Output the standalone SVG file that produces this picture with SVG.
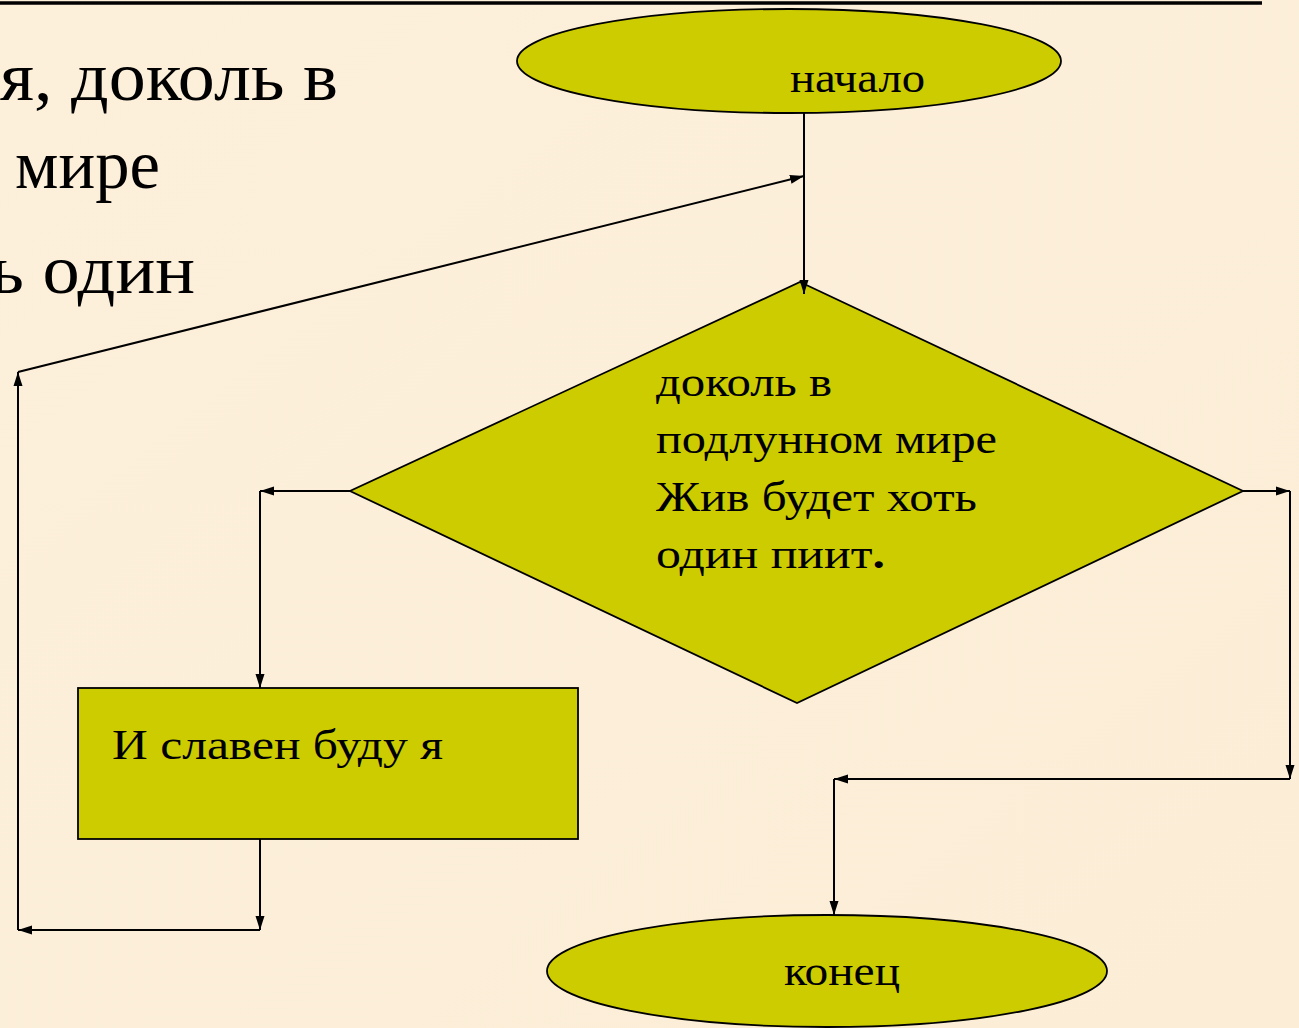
<svg xmlns="http://www.w3.org/2000/svg" width="1299" height="1028" viewBox="0 0 1299 1028">
<defs>
<linearGradient id="bg" x1="0" y1="0" x2="1" y2="1">
<stop offset="0" stop-color="#fdf0db"/>
<stop offset="1" stop-color="#fbedd6"/>
</linearGradient>
<marker id="ah" viewBox="0 0 14 10" refX="14" refY="5" markerWidth="14" markerHeight="10" markerUnits="userSpaceOnUse" orient="auto">
<path d="M0,0.5 L14,5 L0,9.5 z" fill="#000"/>
</marker>
</defs>
<style>
.shape{fill:#cccc00;stroke:#000;stroke-width:1.8}
.conn{fill:none;stroke:#000;stroke-width:2}
.t{font-family:"Liberation Serif","Times New Roman",serif;fill:#000}
.lbl{font-size:43px}
.big{font-size:70px}
</style>
<rect x="0" y="0" width="1299" height="1028" fill="url(#bg)"/>
<line x1="0" y1="3" x2="1262" y2="3" stroke="#000" stroke-width="3.5"/>
<g id="bgtext">
<text class="t big" x="0" y="100" textLength="338" lengthAdjust="spacingAndGlyphs">я, доколь в</text>
<text class="t big" x="15" y="188" textLength="145" lengthAdjust="spacingAndGlyphs">мире</text>
<text class="t big" x="-10" y="293" textLength="205" lengthAdjust="spacingAndGlyphs">ь один</text>
</g>
<g id="start">
<ellipse class="shape" cx="789" cy="61" rx="272" ry="52"/>
<text class="t lbl" x="790" y="92" textLength="135" lengthAdjust="spacingAndGlyphs">начало</text>
</g>
<g id="decision">
<polygon class="shape" points="800,282 1243,491 797,703 350,491"/>
<text class="t lbl" x="656" y="396" textLength="176" lengthAdjust="spacingAndGlyphs">доколь в</text>
<text class="t lbl" x="656" y="453" textLength="341" lengthAdjust="spacingAndGlyphs">подлунном мире</text>
<text class="t lbl" x="656" y="511" textLength="321" lengthAdjust="spacingAndGlyphs">Жив будет хоть</text>
<text class="t lbl" x="656" y="568" textLength="229" lengthAdjust="spacingAndGlyphs">один пиит<tspan font-weight="bold">.</tspan></text>
</g>
<g id="action">
<rect class="shape" x="78" y="688" width="500" height="151"/>
<text class="t lbl" x="112" y="759" textLength="331" lengthAdjust="spacingAndGlyphs">И славен буду я</text>
</g>
<g id="end">
<ellipse class="shape" cx="827" cy="971" rx="280" ry="56"/>
<text class="t lbl" x="784" y="985" textLength="116" lengthAdjust="spacingAndGlyphs">конец</text>
</g>
<g id="connectors">
<line class="conn" x1="804" y1="113" x2="804" y2="294" marker-end="url(#ah)"/>
<line class="conn" x1="260" y1="839" x2="260" y2="930" marker-end="url(#ah)"/>
<line class="conn" x1="260" y1="930" x2="18" y2="930" marker-end="url(#ah)"/>
<line class="conn" x1="18" y1="930" x2="18" y2="372" marker-end="url(#ah)"/>
<line class="conn" x1="18" y1="372" x2="804" y2="176" marker-end="url(#ah)"/>
<line class="conn" x1="350" y1="491" x2="260" y2="491" marker-end="url(#ah)"/>
<line class="conn" x1="260" y1="491" x2="260" y2="688" marker-end="url(#ah)"/>
<line class="conn" x1="1243" y1="491" x2="1290" y2="491" marker-end="url(#ah)"/>
<line class="conn" x1="1290" y1="491" x2="1290" y2="779" marker-end="url(#ah)"/>
<line class="conn" x1="1290" y1="779" x2="834" y2="779" marker-end="url(#ah)"/>
<line class="conn" x1="834" y1="779" x2="834" y2="915" marker-end="url(#ah)"/>
</g>
</svg>
